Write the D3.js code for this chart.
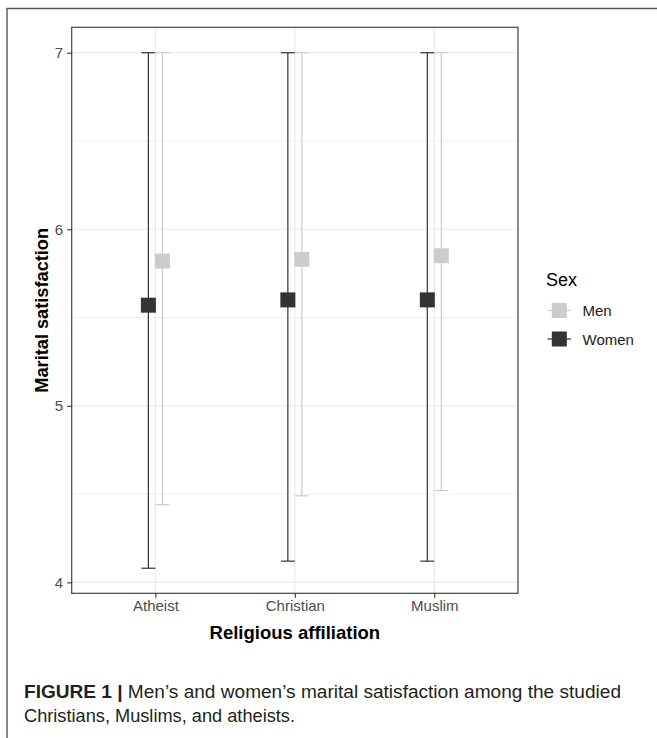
<!DOCTYPE html>
<html>
<head>
<meta charset="utf-8">
<script src="https://cdn.jsdelivr.net/npm/d3@7"></script>
<style>
  html, body { margin: 0; padding: 0; background: #fff; }
  svg { display: block; font-family: "Liberation Sans", Arial, sans-serif; }
</style>
</head>
<body>
<svg id="chart" width="657" height="738"></svg>
<script>
const categories = ["Atheist", "Christian", "Muslim"];
const sexes = ["Men", "Women"];
const menMean = [5.82, 5.83, 5.85];
const menLower = [4.44, 4.49, 4.52];
const menUpper = [7, 7, 7];
const womenMean = [5.57, 5.60, 5.60];
const womenLower = [4.08, 4.12, 4.12];
const womenUpper = [7, 7, 7];
const yTicks = [4, 5, 6, 7];
const yMinor = [4.5, 5.5, 6.5];
const yDomain = [3.938, 7.144];

const colors = { Men: "#cccccc", Women: "#333333" };
const dodge = { Men: 7, Women: -7 };

const series = [
  { sex: "Women", mean: womenMean, lower: womenLower, upper: womenUpper },
  { sex: "Men", mean: menMean, lower: menLower, upper: menUpper }
];

const svg = d3.select("#chart");
const panel = { left: 71.7, top: 27.3, right: 518, bottom: 593.3 };

const x = d3.scalePoint().domain(categories).range([panel.left, panel.right]).padding(0.6);
const y = d3.scaleLinear().domain(yDomain).range([panel.bottom, panel.top]);

// outer figure frame (top + left)
svg.append("path")
  .attr("d", `M7,738 L7,8.5 L657,8.5`)
  .attr("fill", "none").attr("stroke", "#555").attr("stroke-width", 1.4);

// grid
const grid = svg.append("g");
grid.selectAll(".minor").data(yMinor).join("line")
  .attr("x1", panel.left).attr("x2", panel.right)
  .attr("y1", d => y(d)).attr("y2", d => y(d))
  .attr("stroke", "#f0f0f0").attr("stroke-width", 1);
grid.selectAll(".major").data(yTicks).join("line")
  .attr("x1", panel.left).attr("x2", panel.right)
  .attr("y1", d => y(d)).attr("y2", d => y(d))
  .attr("stroke", "#ebebeb").attr("stroke-width", 1.2);
grid.selectAll(".vmajor").data(categories).join("line")
  .attr("x1", d => x(d)).attr("x2", d => x(d))
  .attr("y1", panel.top).attr("y2", panel.bottom)
  .attr("stroke", "#ebebeb").attr("stroke-width", 1.2);

// error bars
const capHalf = 7;
series.forEach(s => {
  const g = svg.append("g");
  categories.forEach((c, i) => {
    const cx = x(c) + dodge[s.sex];
    g.append("line").attr("x1", cx).attr("x2", cx)
      .attr("y1", y(s.lower[i])).attr("y2", y(s.upper[i]))
      .attr("stroke", colors[s.sex]).attr("stroke-width", 1.2);
    [s.lower[i], s.upper[i]].forEach(v => {
      g.append("line").attr("x1", cx - capHalf).attr("x2", cx + capHalf)
        .attr("y1", y(v)).attr("y2", y(v))
        .attr("stroke", colors[s.sex]).attr("stroke-width", 1.2);
    });
  });
});
// points
const sq = 15;
series.forEach(s => {
  svg.append("g").selectAll("rect").data(categories).join("rect")
    .attr("x", (c) => x(c) + dodge[s.sex] - sq / 2)
    .attr("y", (c, i) => y(s.mean[i]) - sq / 2)
    .attr("width", sq).attr("height", sq)
    .attr("fill", colors[s.sex]);
});

// panel border
svg.append("rect")
  .attr("x", panel.left).attr("y", panel.top)
  .attr("width", panel.right - panel.left).attr("height", panel.bottom - panel.top)
  .attr("fill", "none").attr("stroke", "#444").attr("stroke-width", 1.2);

// axes
const yAxis = d3.axisLeft(y).tickValues(yTicks).tickSize(4.5).tickPadding(4).tickFormat(d3.format("d"));
const gy = svg.append("g").attr("transform", `translate(${panel.left},0)`).call(yAxis);
gy.select(".domain").remove();
gy.selectAll(".tick line").attr("stroke", "#333").attr("stroke-width", 1.1);
gy.selectAll(".tick text").attr("fill", "#4d4d4d").style("font-size", "15px")
  .style("font-family", "Liberation Sans, Arial, sans-serif");

const xAxis = d3.axisBottom(x).tickSize(4.5).tickPadding(3);
const gx = svg.append("g").attr("transform", `translate(0,${panel.bottom})`).call(xAxis);
gx.select(".domain").remove();
gx.selectAll(".tick line").attr("stroke", "#333").attr("stroke-width", 1.1);
gx.selectAll(".tick text").attr("fill", "#4d4d4d").style("font-size", "15px")
  .style("font-family", "Liberation Sans, Arial, sans-serif");

// axis titles
svg.append("text")
  .attr("x", (panel.left + panel.right) / 2).attr("y", 638.5)
  .attr("text-anchor", "middle").attr("font-weight", "bold").attr("font-size", 18.5)
  .attr("fill", "#000").text("Religious affiliation");
svg.append("text")
  .attr("transform", `translate(47.5,${(panel.top + panel.bottom) / 2}) rotate(-90)`)
  .attr("text-anchor", "middle").attr("font-weight", "bold").attr("font-size", 18.2)
  .attr("fill", "#000").text("Marital satisfaction");

// legend
const lg = svg.append("g");
lg.append("text").attr("x", 546).attr("y", 285.5).attr("font-size", 18).attr("fill", "#000").text("Sex");
const legY = { Men: 310.5, Women: 339 };
sexes.forEach(s => {
  const cy = legY[s];
  lg.append("line").attr("x1", 547.5).attr("x2", 571).attr("y1", cy).attr("y2", cy)
    .attr("stroke", colors[s]).attr("stroke-width", 1.2);
  lg.append("rect").attr("x", 559.3 - sq / 2).attr("y", cy - sq / 2)
    .attr("width", sq).attr("height", sq).attr("fill", colors[s]);
  lg.append("text").attr("x", 582.5).attr("y", cy + 5.5).attr("font-size", 15)
    .attr("fill", "#222").text(s);
});

// caption
const cap1 = svg.append("text").attr("x", 24).attr("y", 698).attr("font-size", 17.5).attr("fill", "#231f20")
  .attr("textLength", 597).attr("lengthAdjust", "spacingAndGlyphs");
cap1.append("tspan").attr("font-weight", "bold").text("FIGURE 1 |");
cap1.append("tspan").text(" Men\u2019s and women\u2019s marital satisfaction among the studied");
svg.append("text").attr("x", 24).attr("y", 722).attr("font-size", 17.5).attr("fill", "#231f20")
  .attr("textLength", 271).attr("lengthAdjust", "spacingAndGlyphs")
  .text("Christians, Muslims, and atheists.");
</script>
</body>
</html>
